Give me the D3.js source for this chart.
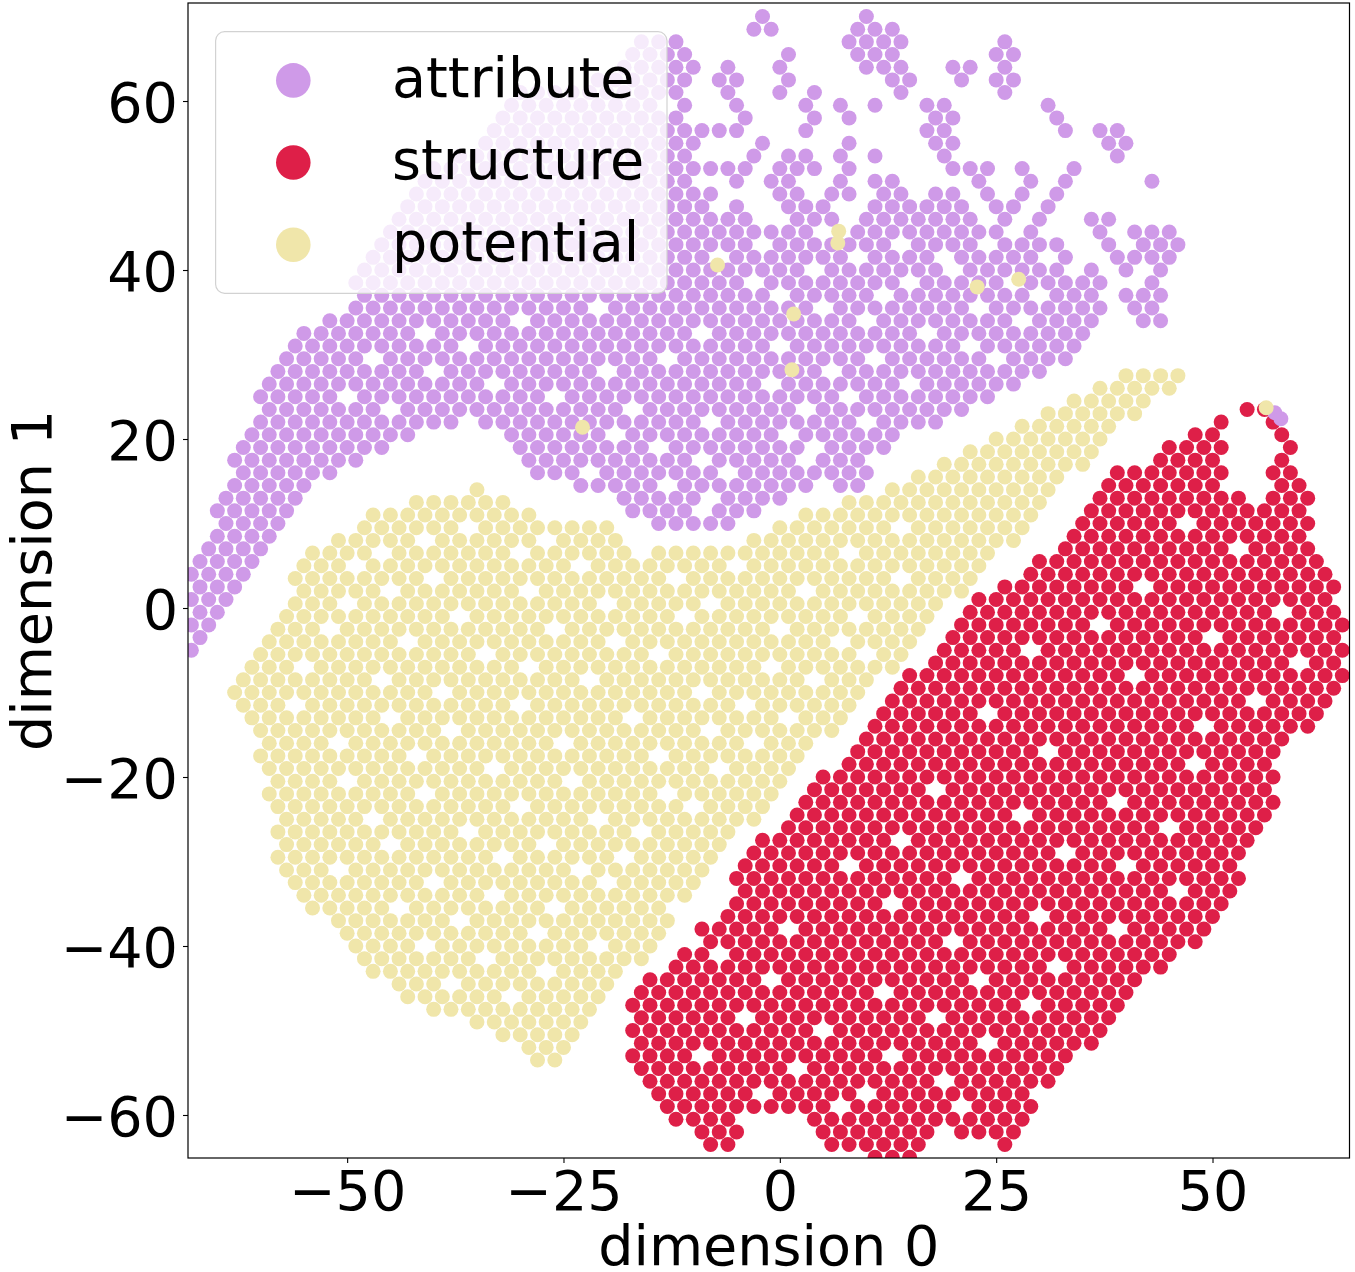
<!DOCTYPE html>
<html><head><meta charset="utf-8">
<script src="https://cdn.jsdelivr.net/npm/d3@7"></script>
<style>body{margin:0;background:#fff}svg{display:block}</style>
</head><body>
<svg id="chart" width="1355" height="1272"></svg>
<script>
const categories = ["attribute", "structure", "potential"];
const colors = ["#cf9ae8", "#de1f48", "#f0e6aa"];
const xTicks = [-50, -25, 0, 25, 50];
const yTicks = [-60, -40, -20, 0, 20, 40, 60];
const xDomain = [-68.39, 65.83];
const yDomain = [-65.09, 71.6];
const xLabel = "dimension 0";
const yLabel = "dimension 1";

// each row: [dimension1, dimension0 values...]
const structureRows = [
[23.5,54,56],
[22,51,57],
[20.5,48,50,58],
[19,45,47,49,51,59],
[17.5,44,46,48,50,58],
[16,39,41,43,45,47,49,51,57,59],
[14.5,38,40,42,44,46,48,50,58,60],
[13,37,39,41,43,45,47,49,51,53,57,59,61],
[11.5,36,38,40,42,44,46,48,50,52,54,56,58,60],
[10,35,37,39,41,43,45,49,51,53,55,57,59,61],
[8.5,34,36,38,40,42,44,46,48,50,52,54,56,58,60],
[7,33,35,37,39,41,43,45,47,49,51,55,57,59,61],
[5.5,30,32,34,36,38,40,42,44,46,48,50,52,54,56,58,60,62],
[4,29,31,33,35,37,39,41,43,45,47,49,51,53,55,57,59,61,63],
[2.5,26,28,30,32,34,36,38,40,44,46,48,50,52,54,56,58,60,62,64],
[1,23,25,27,29,31,33,35,37,39,41,43,45,47,49,51,53,55,57,59,61,63],
[-0.5,22,24,26,28,30,32,34,36,38,40,42,44,46,48,50,52,54,56,60,62,64],
[-2,21,23,25,27,29,31,33,35,39,41,43,45,47,49,51,53,55,57,59,61,63,65],
[-3.5,20,22,24,26,28,30,32,34,36,38,40,42,44,46,48,52,54,56,58,60,62,64],
[-5,19,21,23,25,27,31,33,35,37,39,41,43,45,47,49,51,53,55,57,59,61,63,65],
[-6.5,18,20,22,24,26,28,30,32,34,36,38,40,42,44,46,48,50,52,54,56,58,62,64],
[-8,15,17,19,21,23,25,27,29,31,33,35,37,39,43,45,47,49,51,53,55,57,59,61,63,65],
[-9.5,14,16,18,20,22,24,26,28,30,32,34,36,38,40,42,44,46,48,50,52,54,56,58,60,62,64],
[-11,13,15,17,19,21,23,25,27,29,31,33,35,37,39,41,43,45,47,49,51,53,57,59,61,63],
[-12.5,12,14,16,18,20,22,26,28,30,32,34,36,38,40,42,44,46,48,50,52,54,56,58,60,62],
[-14,11,13,15,17,19,21,23,25,27,29,31,33,35,37,39,41,43,45,47,51,53,55,57,59,61],
[-15.5,10,12,14,16,18,20,22,24,26,28,30,32,34,36,38,40,42,44,46,48,50,52,54,56,58],
[-17,9,11,13,15,17,19,21,23,25,27,29,33,35,37,39,41,43,45,47,49,51,53,55,57],
[-18.5,8,10,12,14,16,18,20,22,24,26,28,30,32,34,36,38,40,42,44,46,50,52,54,56],
[-20,5,7,9,11,13,15,17,19,21,23,25,27,29,31,33,35,37,39,41,43,45,47,49,51,53,55,57],
[-21.5,4,6,8,10,12,14,16,20,22,24,26,28,30,32,34,36,38,40,42,44,46,48,50,52,54,56],
[-23,3,5,7,9,11,13,15,17,19,21,23,25,27,29,31,33,35,37,41,43,45,47,49,51,53,55,57],
[-24.5,2,4,6,8,10,12,14,16,18,20,22,24,26,30,32,34,36,38,40,42,44,46,48,50,52,54,56],
[-26,1,3,5,7,9,11,13,15,17,19,21,23,25,27,29,31,33,35,37,39,41,43,47,49,51,53,55],
[-27.5,-2,0,2,4,6,8,10,12,16,18,20,22,24,26,28,30,32,34,36,38,40,42,44,46,48,50,52,54],
[-29,-3,-1,1,3,5,7,9,11,13,15,17,19,21,23,25,27,29,31,35,37,39,41,43,45,47,49,51,53],
[-30.5,-4,-2,0,2,4,6,10,12,14,16,18,20,22,24,26,28,30,32,34,36,38,42,44,46,48,50,52],
[-32,-5,-3,-1,1,3,5,7,9,11,13,15,17,19,23,25,27,29,31,33,35,37,39,41,43,45,47,49,51,53],
[-33.5,-4,-2,0,2,4,6,8,10,12,14,16,18,20,22,24,26,28,30,32,34,36,38,40,42,44,48,50,52],
[-35,-5,-3,-1,1,3,5,7,9,11,15,17,19,21,23,25,27,29,31,33,35,37,39,41,43,45,47,49,51],
[-36.5,-6,-4,-2,0,2,4,6,8,10,12,14,16,18,20,22,24,26,28,32,34,36,38,40,42,44,46,48,50],
[-38,-9,-7,-5,-3,-1,3,5,7,9,11,13,15,17,19,21,23,25,27,29,31,33,35,37,41,43,45,47,49],
[-39.5,-8,-6,-4,-2,0,2,4,6,8,10,12,14,16,18,22,24,26,28,30,32,34,36,38,40,42,44,46,48],
[-41,-11,-9,-5,-3,-1,1,3,5,7,9,11,13,15,17,19,21,23,25,27,29,31,33,35,37,39,41,43,45],
[-42.5,-12,-10,-8,-6,-4,-2,0,2,4,6,8,10,12,14,16,18,20,22,24,26,28,30,34,36,38,40,42,44],
[-44,-15,-13,-11,-9,-7,-5,-3,1,3,5,7,9,11,13,15,17,19,21,25,27,29,31,33,35,37,39,41],
[-45.5,-16,-14,-12,-10,-8,-6,-4,-2,0,2,4,6,8,10,14,16,18,20,22,24,26,28,30,32,34,36,38,40],
[-47,-17,-15,-13,-11,-9,-7,-5,-3,-1,1,3,5,7,9,11,13,15,17,19,21,23,25,27,31,33,35,37,39],
[-48.5,-16,-14,-12,-10,-8,-6,-2,0,2,4,6,8,10,12,14,16,20,22,24,26,28,30,32,34,36,38],
[-50,-17,-15,-13,-11,-9,-7,-5,-3,-1,1,3,7,9,11,13,15,17,19,21,23,25,27,29,31,33,35,37],
[-51.5,-16,-14,-12,-10,-8,-6,-4,-2,0,2,4,6,8,10,12,14,16,18,20,22,26,28,30,32,34,36],
[-53,-17,-15,-13,-11,-7,-5,-3,-1,1,3,5,7,9,11,15,17,19,21,23,25,27,29,31,33],
[-54.5,-16,-14,-12,-10,-8,-6,-4,-2,0,4,6,8,10,12,14,16,18,20,22,24,26,28,30,32],
[-56,-15,-13,-11,-9,-7,-5,-3,-1,1,3,5,7,9,11,13,15,17,21,23,25,27,29,31],
[-57.5,-14,-12,-10,-8,-6,-4,0,2,4,6,8,12,14,16,18,20,22,24,26,28],
[-59,-13,-11,-9,-7,-5,-3,-1,1,3,5,9,11,13,15,17,19,23,25,27,29],
[-60.5,-12,-10,-8,-6,4,6,8,10,12,14,16,18,20,22,24,26,28],
[-62,-9,-7,-5,5,7,9,11,13,15,17,21,23,25,27],
[-63.5,-8,-6,6,8,10,12,14,16,26],
[-65,11,13,15]
];

const attributeRows = [
[70,-2,10],
[68.5,-3,-1,9,11,13],
[67,-16,-14,-12,8,10,12,14,26],
[65.5,-17,-15,-13,-11,1,9,11,13,25,27],
[64,-18,-16,-14,-12,-10,-6,0,10,12,14,20,22,26],
[62.5,-21,-19,-17,-15,-13,-11,-7,-5,1,13,15,21,25,27],
[61,-30,-28,-26,-24,-22,-20,-18,-16,-14,-12,-6,0,4,14,26],
[59.5,-31,-29,-27,-25,-23,-21,-19,-17,-15,-11,-5,3,7,11,17,19,31],
[58,-32,-30,-28,-26,-24,-22,-20,-18,-16,-14,-12,-4,4,8,18,20,32],
[56.5,-33,-31,-29,-27,-25,-23,-21,-19,-17,-15,-13,-11,-9,-7,-5,3,17,19,33,37,39],
[55,-34,-32,-30,-28,-26,-24,-22,-20,-18,-16,-14,-12,-10,-2,8,18,20,38,40],
[53.5,-37,-35,-33,-31,-29,-27,-25,-23,-21,-19,-17,-15,-13,-11,-3,1,3,7,11,19,39],
[52,-40,-38,-36,-34,-32,-30,-28,-26,-24,-22,-20,-18,-16,-14,-12,-10,-8,-6,-4,0,2,4,8,20,22,24,28,34],
[50.5,-41,-39,-37,-35,-33,-31,-29,-27,-25,-23,-21,-19,-17,-15,-13,-11,-5,-1,1,7,11,13,23,29,33,43],
[49,-42,-40,-38,-36,-34,-32,-30,-28,-26,-24,-22,-20,-18,-16,-14,-12,-10,-8,0,2,6,8,12,14,18,20,24,28,32],
[47.5,-43,-41,-39,-37,-35,-33,-31,-29,-27,-25,-23,-21,-19,-17,-15,-13,-11,-9,-5,1,3,5,11,13,15,17,19,21,25,27,31],
[46,-44,-42,-40,-38,-36,-34,-32,-30,-28,-26,-24,-22,-20,-18,-16,-14,-12,-10,-8,-6,-4,2,4,6,10,12,14,16,18,20,22,26,30,36,38],
[44.5,-45,-43,-41,-39,-37,-35,-33,-31,-29,-27,-25,-23,-21,-19,-17,-15,-13,-11,-9,-7,-5,-3,-1,1,3,9,11,13,15,17,19,21,23,25,29,37,41,43,45],
[43,-46,-44,-42,-40,-38,-36,-34,-32,-30,-28,-26,-24,-22,-20,-18,-16,-14,-12,-10,-8,-6,-4,0,2,4,6,8,10,12,16,18,20,22,26,28,30,32,38,42,44,46],
[41.5,-47,-45,-43,-41,-39,-37,-35,-33,-31,-29,-27,-25,-23,-21,-19,-17,-15,-13,-11,-9,-5,-3,-1,1,3,5,7,11,13,15,17,21,23,25,27,29,33,39,41,43,45],
[40,-48,-46,-44,-42,-40,-38,-36,-34,-32,-30,-28,-26,-24,-22,-20,-18,-16,-14,-12,-10,-8,-6,-4,-2,0,2,6,8,10,12,14,16,18,22,24,26,28,30,32,36,40,44],
[38.5,-49,-47,-45,-43,-41,-39,-37,-35,-33,-31,-29,-27,-25,-23,-21,-19,-17,-15,-13,-11,-9,-7,-5,-1,1,3,5,7,9,11,13,17,19,21,23,25,29,31,33,35,37,43],
[37,-48,-46,-44,-42,-40,-38,-36,-34,-32,-30,-28,-26,-24,-22,-20,-18,-16,-14,-12,-10,-8,-6,-4,-2,2,4,6,8,10,14,16,18,20,22,24,26,28,32,34,36,40,42,44],
[35.5,-49,-47,-45,-43,-41,-39,-37,-35,-33,-31,-29,-27,-25,-23,-19,-17,-15,-13,-11,-9,-7,-5,-3,-1,1,3,7,9,11,13,15,17,19,21,25,27,29,31,33,35,37,41,43],
[34,-52,-50,-48,-46,-44,-42,-40,-38,-36,-34,-32,-28,-26,-24,-22,-20,-18,-16,-14,-12,-10,-8,-6,-4,-2,0,2,4,6,8,12,14,16,18,20,22,24,26,30,32,34,36,42,44],
[32.5,-55,-53,-51,-49,-47,-45,-43,-39,-37,-35,-33,-31,-29,-27,-25,-23,-21,-19,-17,-15,-13,-11,-7,-5,-3,-1,1,3,5,7,9,11,13,15,19,21,23,25,27,29,31,33,35],
[31,-56,-54,-52,-50,-48,-46,-44,-42,-40,-38,-34,-32,-30,-28,-26,-24,-22,-20,-18,-16,-14,-12,-10,-8,-6,-4,-2,2,4,6,8,10,12,14,16,18,20,24,26,28,30,32,34],
[29.5,-57,-55,-53,-51,-49,-45,-43,-41,-39,-37,-35,-33,-31,-29,-27,-25,-23,-21,-19,-17,-15,-11,-9,-7,-5,-3,-1,1,3,5,7,9,13,15,17,19,21,23,27,29,31,33],
[28,-58,-56,-54,-52,-50,-48,-46,-44,-42,-38,-36,-34,-32,-30,-28,-26,-24,-22,-18,-16,-14,-12,-10,-8,-6,-4,-2,0,2,4,8,10,12,14,16,18,20,22,24,26,28,30],
[26.5,-59,-57,-55,-53,-51,-49,-47,-45,-43,-41,-39,-37,-35,-31,-29,-27,-25,-23,-21,-19,-17,-15,-13,-11,-9,-7,-5,-3,1,3,5,7,9,11,13,17,19,21,23,25,27],
[25,-60,-58,-56,-54,-52,-48,-46,-44,-42,-40,-38,-36,-34,-32,-30,-28,-24,-22,-20,-18,-16,-14,-12,-10,-8,-6,-4,-2,0,2,4,6,10,12,14,16,18,20,22,24],
[23.5,-59,-57,-55,-53,-51,-49,-47,-43,-41,-39,-37,-35,-33,-31,-29,-27,-25,-23,-21,-19,-15,-13,-11,-9,-7,-5,-3,-1,1,5,7,9,11,13,15,17,19,21],
[22,-60,-58,-56,-54,-52,-50,-48,-46,-44,-42,-40,-38,-34,-32,-30,-28,-26,-24,-22,-20,-18,-16,-14,-12,-10,-6,-4,-2,0,2,4,6,8,12,14,16,18],
[20.5,-61,-59,-57,-55,-53,-51,-49,-47,-45,-43,-31,-29,-27,-25,-23,-21,-17,-15,-13,-11,-9,-7,-5,-3,-1,3,5,7,9,11,13],
[19,-62,-60,-58,-56,-54,-52,-50,-48,-46,-30,-28,-26,-24,-22,-20,-18,-16,-12,-10,-8,-6,-4,-2,0,2,6,8,10,12],
[17.5,-63,-61,-59,-57,-55,-53,-51,-49,-29,-27,-25,-23,-21,-19,-17,-15,-13,-11,-7,-5,-3,-1,1,5,7,9],
[16,-62,-60,-58,-56,-54,-52,-28,-26,-24,-20,-18,-16,-14,-12,-10,-8,-4,-2,0,2,4,6,8,10],
[14.5,-63,-61,-59,-57,-55,-23,-21,-19,-17,-15,-11,-9,-7,-5,-3,-1,1,3,7,9],
[13,-64,-62,-60,-58,-56,-18,-16,-14,-12,-10,-6,-4,-2,0],
[11.5,-65,-63,-61,-59,-57,-17,-15,-13,-11,-7,-5,-3],
[10,-64,-62,-60,-58,-14,-12,-10,-8,-6],
[8.5,-65,-63,-61,-59],
[7,-66,-64,-62,-60],
[5.5,-67,-65,-63,-61],
[4,-68,-66,-64,-62],
[2.5,-67,-65,-63],
[1,-68,-66,-64],
[-0.5,-67,-65],
[-2,-68,-66],
[-3.5,-67],
[-5,-68]
];

const potentialRows = [
[27.5,40,42,44,46],
[26,37,39,41,43,45],
[24.5,34,36,38,40,42],
[23,31,33,35,37,39,41],
[21.5,28,30,32,34,36,38],
[20,25,27,29,31,33,35,37],
[18.5,22,24,26,28,30,32,34,36],
[17,19,21,23,25,27,29,31,33,35],
[15.5,16,18,20,22,24,26,28,30,32],
[14,-35,13,15,17,19,21,23,25,27,29,31],
[12.5,-42,-40,-38,-36,-34,-32,8,10,12,14,16,18,20,22,24,26,28,30],
[11,-47,-45,-43,-41,-39,-37,-35,-33,-31,-29,3,5,7,9,11,13,15,17,19,21,23,25,27,29],
[9.5,-48,-46,-44,-42,-40,-38,-34,-32,-30,-28,-26,-24,-22,-20,0,2,4,6,8,10,12,16,18,20,22,24,26,28],
[8,-51,-49,-47,-45,-43,-39,-37,-35,-33,-31,-29,-25,-23,-21,-19,-3,-1,1,3,5,7,9,11,13,15,17,19,21,23,25,27],
[6.5,-54,-52,-50,-48,-44,-42,-40,-38,-36,-34,-32,-28,-26,-24,-22,-20,-18,-14,-12,-10,-8,-6,-4,-2,0,2,4,6,10,12,14,16,18,20,22,24],
[5,-55,-53,-51,-47,-45,-43,-41,-39,-37,-35,-33,-31,-29,-27,-25,-21,-19,-17,-15,-13,-11,-9,-7,-3,-1,1,3,5,7,9,11,13,15,17,19,21,23],
[3.5,-56,-54,-52,-50,-48,-46,-44,-42,-38,-36,-34,-32,-30,-28,-26,-24,-22,-20,-18,-16,-14,-10,-8,-6,-4,-2,0,2,4,6,8,10,12,16,18,20,22],
[2,-55,-53,-51,-49,-47,-43,-41,-39,-37,-35,-33,-31,-27,-25,-23,-21,-19,-17,-15,-13,-11,-9,-7,-5,-3,-1,1,5,7,9,11,13,15,17,19,21],
[0.5,-56,-54,-52,-48,-46,-44,-42,-40,-38,-36,-34,-32,-30,-28,-26,-24,-22,-18,-16,-14,-12,-10,-6,-4,-2,0,2,4,6,8,10,12,14,16,18],
[-1,-57,-55,-53,-51,-49,-47,-45,-43,-41,-39,-35,-33,-31,-29,-27,-25,-23,-21,-19,-17,-15,-13,-9,-7,-5,-3,-1,1,3,5,7,11,13,15,17],
[-2.5,-58,-56,-54,-50,-48,-46,-44,-42,-40,-38,-36,-34,-32,-30,-28,-24,-22,-20,-18,-16,-14,-12,-10,-8,-6,-4,-2,2,4,6,8,10,12,14,16],
[-4,-59,-57,-55,-53,-51,-49,-47,-45,-41,-39,-37,-35,-33,-31,-29,-27,-25,-23,-21,-17,-15,-13,-11,-9,-7,-5,-3,-1,1,3,5,9,11,13,15],
[-5.5,-60,-58,-56,-54,-52,-50,-48,-46,-44,-42,-40,-38,-36,-32,-30,-28,-26,-24,-22,-20,-18,-16,-12,-10,-8,-6,-4,-2,0,2,4,6,8,12,14],
[-7,-61,-59,-57,-53,-51,-49,-47,-45,-43,-41,-39,-37,-35,-33,-31,-27,-25,-23,-21,-19,-17,-15,-13,-11,-9,-7,-5,-3,1,3,5,7,9,11,13],
[-8.5,-62,-60,-58,-56,-54,-52,-50,-48,-44,-42,-40,-38,-36,-34,-32,-30,-28,-26,-24,-20,-18,-16,-14,-12,-10,-8,-6,-4,-2,0,2,6,8,10],
[-10,-63,-61,-59,-57,-55,-53,-51,-49,-47,-45,-43,-41,-37,-35,-33,-31,-29,-27,-25,-23,-21,-19,-17,-15,-13,-11,-7,-5,-3,-1,1,3,5,7,9],
[-11.5,-62,-60,-58,-54,-52,-50,-48,-46,-44,-42,-40,-38,-36,-34,-32,-28,-26,-24,-22,-20,-18,-16,-14,-12,-10,-8,-6,-2,0,2,4,6,8],
[-13,-61,-59,-57,-55,-53,-51,-49,-47,-43,-41,-39,-37,-35,-33,-31,-29,-27,-25,-23,-21,-19,-15,-13,-11,-9,-7,-5,-3,-1,3,5,7],
[-14.5,-60,-58,-56,-54,-52,-50,-48,-46,-44,-42,-40,-36,-34,-32,-30,-28,-26,-24,-22,-20,-18,-16,-14,-12,-10,-6,-4,-2,0,2,4,6],
[-16,-59,-57,-55,-53,-49,-47,-45,-43,-41,-39,-37,-35,-33,-31,-29,-27,-23,-21,-19,-17,-15,-13,-11,-9,-7,-5,-1,1,3],
[-17.5,-60,-58,-56,-54,-52,-50,-48,-46,-44,-40,-38,-36,-34,-32,-30,-28,-26,-24,-22,-20,-18,-16,-12,-10,-8,-6,-4,-2,0,2],
[-19,-59,-57,-55,-53,-51,-49,-47,-45,-43,-41,-39,-37,-35,-31,-29,-27,-25,-23,-21,-19,-17,-15,-13,-11,-9,-5,-3,-1,1],
[-20.5,-58,-56,-54,-52,-48,-46,-44,-42,-40,-38,-36,-34,-32,-30,-28,-26,-22,-20,-18,-16,-14,-12,-10,-8,-6,-4,-2,0],
[-22,-59,-57,-55,-53,-51,-49,-47,-45,-43,-39,-37,-35,-33,-31,-29,-27,-25,-23,-21,-19,-17,-15,-11,-9,-7,-5,-3,-1],
[-23.5,-58,-56,-54,-52,-50,-48,-46,-44,-42,-40,-38,-36,-34,-32,-28,-26,-24,-22,-20,-18,-16,-14,-12,-8,-6,-4,-2],
[-25,-57,-55,-53,-51,-49,-45,-43,-41,-39,-37,-35,-33,-31,-29,-27,-25,-23,-19,-17,-15,-13,-11,-9,-7,-5,-3],
[-26.5,-58,-56,-54,-52,-50,-48,-46,-44,-42,-40,-38,-34,-32,-30,-28,-26,-24,-22,-20,-18,-14,-12,-10,-8,-6],
[-28,-57,-55,-53,-51,-49,-47,-43,-41,-39,-37,-35,-33,-31,-29,-25,-23,-21,-19,-17,-15,-13,-11,-9,-7],
[-29.5,-58,-56,-54,-52,-50,-48,-46,-44,-42,-40,-38,-36,-34,-30,-28,-26,-24,-22,-20,-16,-14,-12,-10,-8],
[-31,-57,-55,-53,-49,-47,-45,-43,-41,-39,-37,-35,-33,-31,-29,-27,-25,-21,-19,-17,-15,-13,-11,-9],
[-32.5,-56,-54,-52,-50,-48,-46,-44,-42,-38,-36,-34,-32,-30,-28,-26,-24,-22,-18,-16,-14,-12,-10],
[-34,-55,-53,-51,-49,-47,-45,-43,-41,-39,-37,-35,-31,-29,-27,-25,-23,-21,-19,-17,-15,-13,-11],
[-35.5,-54,-52,-50,-48,-46,-42,-40,-38,-36,-34,-32,-30,-28,-24,-22,-20,-18,-16,-14],
[-37,-51,-49,-47,-45,-43,-41,-39,-35,-33,-31,-29,-27,-25,-23,-21,-19,-17,-15,-13],
[-38.5,-50,-48,-46,-44,-42,-40,-38,-36,-34,-32,-30,-26,-24,-22,-20,-18,-16,-14],
[-40,-49,-47,-45,-43,-39,-37,-35,-33,-31,-29,-27,-25,-23,-19,-17,-15],
[-41.5,-48,-46,-44,-42,-40,-38,-36,-32,-30,-28,-26,-24,-22,-20,-18,-16],
[-43,-47,-45,-43,-41,-39,-37,-35,-33,-31,-29,-25,-23,-21,-19],
[-44.5,-44,-42,-40,-36,-34,-32,-30,-28,-26,-24,-22,-20],
[-46,-43,-41,-39,-37,-35,-33,-29,-27,-25,-23,-21],
[-47.5,-40,-38,-36,-34,-32,-30,-28,-26,-24,-22],
[-49,-35,-33,-31,-29,-27,-25,-23],
[-50.5,-32,-30,-28,-26,-24],
[-52,-29,-27,-25],
[-53.5,-28,-26]
];

// isolated points: [dimension0, dimension1]
const attributeExtra = [[57.2, 23.1], [57.9, 22.4]];
const potentialExtra = [[-7.2, 40.6], [-22.8, 21.4], [6.8, 44.6], [6.7, 43.2], [22.8, 38], [27.6, 38.9], [1.6, 34.8], [1.4, 28.2], [56.2, 23.7]];

const W = 1355, H = 1272;
const m = {l: 188, r: 1349.5, t: 3, b: 1158};
const FONT = "DejaVu Sans";
const FS = 55.6;

const x = d3.scaleLinear().domain(xDomain).range([m.l, m.r]);
const y = d3.scaleLinear().domain(yDomain).range([m.b, m.t]);
const svg = d3.select("#chart");
svg.append("rect").attr("width", W).attr("height", H).attr("fill", "#fff");

const rowsToPoints = rows => rows.flatMap(r => r.slice(1).map(v => [v, r[0]]));
const series = [
  {name: categories[1], color: colors[1], pts: rowsToPoints(structureRows)},
  {name: categories[0], color: colors[0], pts: rowsToPoints(attributeRows).concat(attributeExtra)},
  {name: categories[2], color: colors[2], pts: rowsToPoints(potentialRows).concat(potentialExtra)}
];

svg.append("clipPath").attr("id", "plotclip").append("rect")
  .attr("x", m.l).attr("y", m.t).attr("width", m.r - m.l).attr("height", m.b - m.t);
const plot = svg.append("g").attr("clip-path", "url(#plotclip)");
series.forEach(s => {
  plot.append("g").selectAll("circle").data(s.pts).join("circle")
    .attr("cx", d => x(d[0])).attr("cy", d => y(d[1])).attr("r", 7.5).attr("fill", s.color);
});

// frame
svg.append("rect").attr("x", m.l).attr("y", m.t).attr("width", m.r - m.l).attr("height", m.b - m.t)
  .attr("fill", "none").attr("stroke", "#000").attr("stroke-width", 1.2);

const fmt = d3.format("d");
const gx = svg.append("g").attr("transform", `translate(0,${m.b})`)
  .call(d3.axisBottom(x).tickValues(xTicks).tickSize(5).tickPadding(8).tickFormat(fmt));
gx.select(".domain").remove();
gx.attr("font-size", FS).attr("font-family", FONT);
gx.selectAll("line").attr("stroke", "#000").attr("stroke-width", 1.1);
gx.selectAll("text").attr("fill", "#000");

const gy = svg.append("g").attr("transform", `translate(${m.l},0)`)
  .call(d3.axisLeft(y).tickValues(yTicks).tickSize(5).tickPadding(5).tickFormat(fmt));
gy.select(".domain").remove();
gy.attr("font-size", FS).attr("font-family", FONT);
gy.selectAll("line").attr("stroke", "#000").attr("stroke-width", 1.1);
gy.selectAll("text").attr("fill", "#000").attr("dy", "0.365em");

svg.append("text").attr("x", (m.l + m.r) / 2).attr("y", 1265).attr("text-anchor", "middle")
  .attr("font-family", FONT).attr("font-size", FS).attr("fill", "#000").text(xLabel);
svg.append("text").attr("transform", `translate(51,${(m.t + m.b) / 2}) rotate(-90)`).attr("text-anchor", "middle")
  .attr("font-family", FONT).attr("font-size", FS).attr("fill", "#000").text(yLabel);

// legend
const lg = svg.append("g");
lg.append("rect").attr("x", 215.6).attr("y", 31.7).attr("width", 451.4).attr("height", 261.6).attr("rx", 9)
  .attr("fill", "#fff").attr("fill-opacity", 0.8).attr("stroke", "#d2d2d2").attr("stroke-width", 1.2);
const legendY = [80.4, 162.5, 244.7];
categories.forEach((c, i) => {
  lg.append("circle").attr("cx", 293.3).attr("cy", legendY[i]).attr("r", 17.3).attr("fill", colors[i]);
  lg.append("text").attr("x", 392).attr("y", legendY[i] + 16.3).attr("font-family", FONT).attr("font-size", FS)
    .attr("fill", "#000").text(c);
});
</script>
</body></html>
